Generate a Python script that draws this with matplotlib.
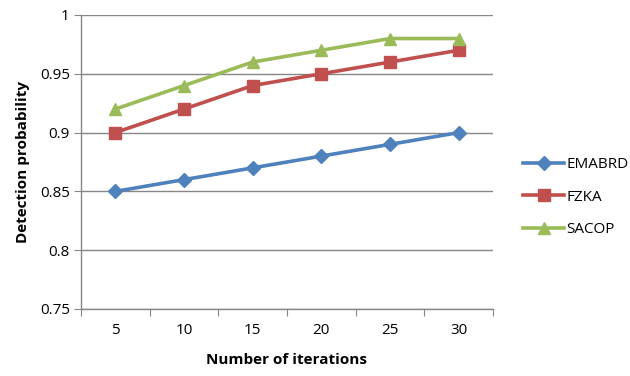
import matplotlib
matplotlib.use("Agg")
import matplotlib.pyplot as plt
import numpy as np

iterations = ["5", "10", "15", "20", "25", "30"]
emabrd = [0.85, 0.86, 0.87, 0.88, 0.89, 0.90]
fzka = [0.90, 0.92, 0.94, 0.95, 0.96, 0.97]
sacop = [0.92, 0.94, 0.96, 0.97, 0.98, 0.98]
yticks = [0.75, 0.8, 0.85, 0.9, 0.95, 1.0]
ytick_labels = ["0.75", "0.8", "0.85", "0.9", "0.95", "1"]

plt.rcParams["font.family"] = ["Open Sans", "DejaVu Sans"]

W, H = 630, 376
fig = plt.figure(figsize=(W / 100, H / 100), dpi=100)
ax = fig.add_axes([81 / W, 1 - 309 / H, (493 - 81) / W, (309 - 15) / H])

x = np.arange(len(iterations))
grid_col = "#868686"

series = [
    ("EMABRD", emabrd, "#4F81BD", "D", 7),
    ("FZKA", fzka, "#C0504D", "s", 8),
    ("SACOP", sacop, "#9BBB59", "^", 8.5),
]
for name, vals, col, mk, ms in series:
    ax.plot(x, vals, color=col, lw=2.6, marker=mk, markersize=ms,
            markerfacecolor=col, markeredgecolor=col, label=name, zorder=3)

ax.set_xlim(-0.5, len(iterations) - 0.5)
ax.set_ylim(0.75, 1.0)
ax.set_yticks(yticks)
ax.set_yticklabels(ytick_labels)
ax.yaxis.grid(True, color=grid_col, lw=1)
ax.set_axisbelow(True)

# Category boundaries carry the tick marks, labels sit at category centres
ax.set_xticks(np.arange(-0.5, len(iterations), 1.0))
ax.set_xticklabels([])
ax.set_xticks(x, minor=True)
ax.set_xticklabels(iterations, minor=True)
ax.tick_params(axis="x", which="major", length=5, color=grid_col, direction="out")
ax.tick_params(axis="x", which="minor", length=0, pad=10, labelsize=11)
ax.tick_params(axis="y", length=5, color=grid_col, labelsize=11, pad=3)

for s in ["top", "right"]:
    ax.spines[s].set_visible(False)
for s in ["left", "bottom"]:
    ax.spines[s].set_color(grid_col)
    ax.spines[s].set_linewidth(1)

ax.set_xlabel("Number of iterations", fontsize=11, fontweight="bold", labelpad=11)
ax.set_ylabel("Detection probability", fontsize=11, fontweight="bold", labelpad=7)

leg = fig.legend(loc="upper left", bbox_to_anchor=(517 / W, 1 - 151 / H),
                 frameon=False, fontsize=11, handlelength=2.7,
                 handletextpad=0.15, labelspacing=1.15, borderaxespad=0)

fig.savefig("out.png", dpi=100)
